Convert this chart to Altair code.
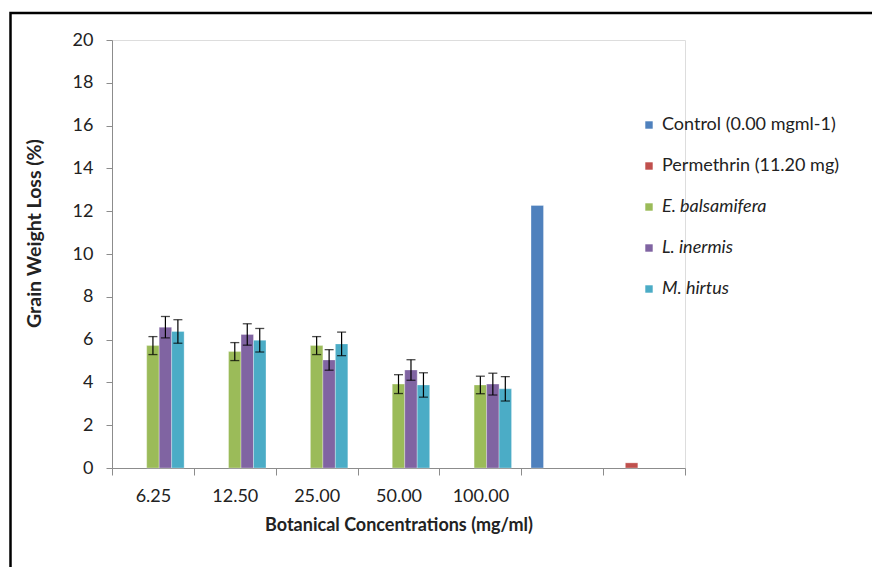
import altair as alt
import pandas as pd

# ---- data ----
concentrations = ["6.25", "12.50", "25.00", "50.00", "100.00"]
categories = concentrations + ["ctrl", "perm"]
series = ["Control (0.00 mgml-1)", "Permethrin (11.20 mg)",
          "E. balsamifera", "L. inermis", "M. hirtus"]
colors = ["#4F81BD", "#C0504D", "#9BBB59", "#8064A2", "#4BACC6"]

e_balsamifera = [5.72, 5.44, 5.72, 3.92, 3.88]
e_balsamifera_err = [0.42, 0.42, 0.42, 0.44, 0.41]
l_inermis = [6.58, 6.24, 5.05, 4.58, 3.92]
l_inermis_err = [0.50, 0.50, 0.48, 0.48, 0.51]
m_hirtus = [6.38, 5.97, 5.80, 3.88, 3.70]
m_hirtus_err = [0.55, 0.55, 0.55, 0.57, 0.57]
control_value = 12.27
permethrin_value = 0.24

y_ticks = list(range(0, 21, 2))

rows = []
for name, vals, errs in [("E. balsamifera", e_balsamifera, e_balsamifera_err),
                         ("L. inermis", l_inermis, l_inermis_err),
                         ("M. hirtus", m_hirtus, m_hirtus_err)]:
    for c, v, e in zip(concentrations, vals, errs):
        rows.append({"cat": c, "series": name, "value": v, "lo": v - e, "hi": v + e})
rows.append({"cat": "ctrl", "series": series[0], "value": control_value, "lo": None, "hi": None})
rows.append({"cat": "perm", "series": series[1], "value": permethrin_value, "lo": None, "hi": None})
df = pd.DataFrame(rows)
err_df = df.dropna(subset=["lo"])

FONT = "Lato"
TXT = "#222222"
AX = "#8C8C8C"

x_scale = alt.Scale(domain=categories, paddingInner=0, paddingOuter=0)
x_enc = alt.X("cat:N", scale=x_scale,
              axis=alt.Axis(title="Botanical Concentrations (mg/ml)", labelAngle=0,
                            labelExpr="indexof(['ctrl','perm'], datum.value) >= 0 ? '' : datum.label",
                            tickBand="extent", tickSize=7, tickColor=AX, domainColor=AX,
                            labelFontSize=18, labelColor=TXT, labelPadding=12, labelFont=FONT,
                            titleFontSize=18, titleFontWeight="bold", titleColor=TXT,
                            titleFont=FONT, titlePadding=11))
xoff_enc = alt.XOffset("series:N", scale=alt.Scale(domain=series, paddingOuter=0.78, paddingInner=0))
y_scale = alt.Scale(domain=[0, 20], nice=False)

legend = alt.Legend(title=None, orient="none", legendX=528, legendY=76,
                    symbolType="square", symbolSize=55, symbolStrokeWidth=0,
                    labelFontSize=18, labelFont=FONT, labelColor=TXT, labelOffset=4,
                    rowPadding=23, labelLimit=300,
                    labelFontStyle={"expr": "indexof(['E. balsamifera','L. inermis','M. hirtus'], datum.value) >= 0 ? 'italic' : 'normal'"})

bars = alt.Chart(df).mark_bar(stroke="white", strokeOpacity=0.5, strokeWidth=0.6).encode(
    x=x_enc,
    xOffset=xoff_enc,
    y=alt.Y("value:Q", scale=y_scale,
            axis=alt.Axis(title="Grain Weight Loss (%)", values=y_ticks, grid=False,
                          tickSize=6, tickColor=AX, domainColor=AX,
                          labelFontSize=18, labelColor=TXT, labelFont=FONT, labelPadding=13,
                          titleFontSize=19.5, titleFontWeight="bold", titleColor=TXT,
                          titleFont=FONT, titleX=-78, titleY=193, titleAnchor="middle",
                          titleBaseline="middle")),
    color=alt.Color("series:N", scale=alt.Scale(domain=series, range=colors), legend=legend),
)

rules = alt.Chart(err_df).mark_rule(color="black", strokeWidth=1.2).encode(
    x=alt.X("cat:N", scale=x_scale),
    xOffset=xoff_enc,
    y=alt.Y("lo:Q", scale=y_scale),
    y2="hi:Q",
)
caps_hi = alt.Chart(err_df).mark_tick(color="black", size=9, thickness=1.3).encode(
    x=alt.X("cat:N", scale=x_scale),
    xOffset=xoff_enc,
    y=alt.Y("hi:Q", scale=y_scale),
)
caps_lo = alt.Chart(err_df).mark_tick(color="black", size=9, thickness=1.3).encode(
    x=alt.X("cat:N", scale=x_scale),
    xOffset=xoff_enc,
    y=alt.Y("lo:Q", scale=y_scale),
)

frame = alt.Chart(pd.DataFrame({"k": [0]})).mark_rect(
    fillOpacity=0, stroke="black", strokeWidth=2.5).encode(
    x=alt.value(-101.5), x2=alt.value(800), y=alt.value(-27), y2=alt.value(560))

chart = alt.layer(bars, rules, caps_hi, caps_lo, frame).properties(
    width=573, height=428,
    autosize=alt.AutoSizeParams(type="none"),
    padding={"left": 104, "top": 32, "right": 187, "bottom": 99},
).configure_view(stroke=None).configure(background="white")

chart.save("out.html", embed_options={"renderer": "svg", "actions": False})
